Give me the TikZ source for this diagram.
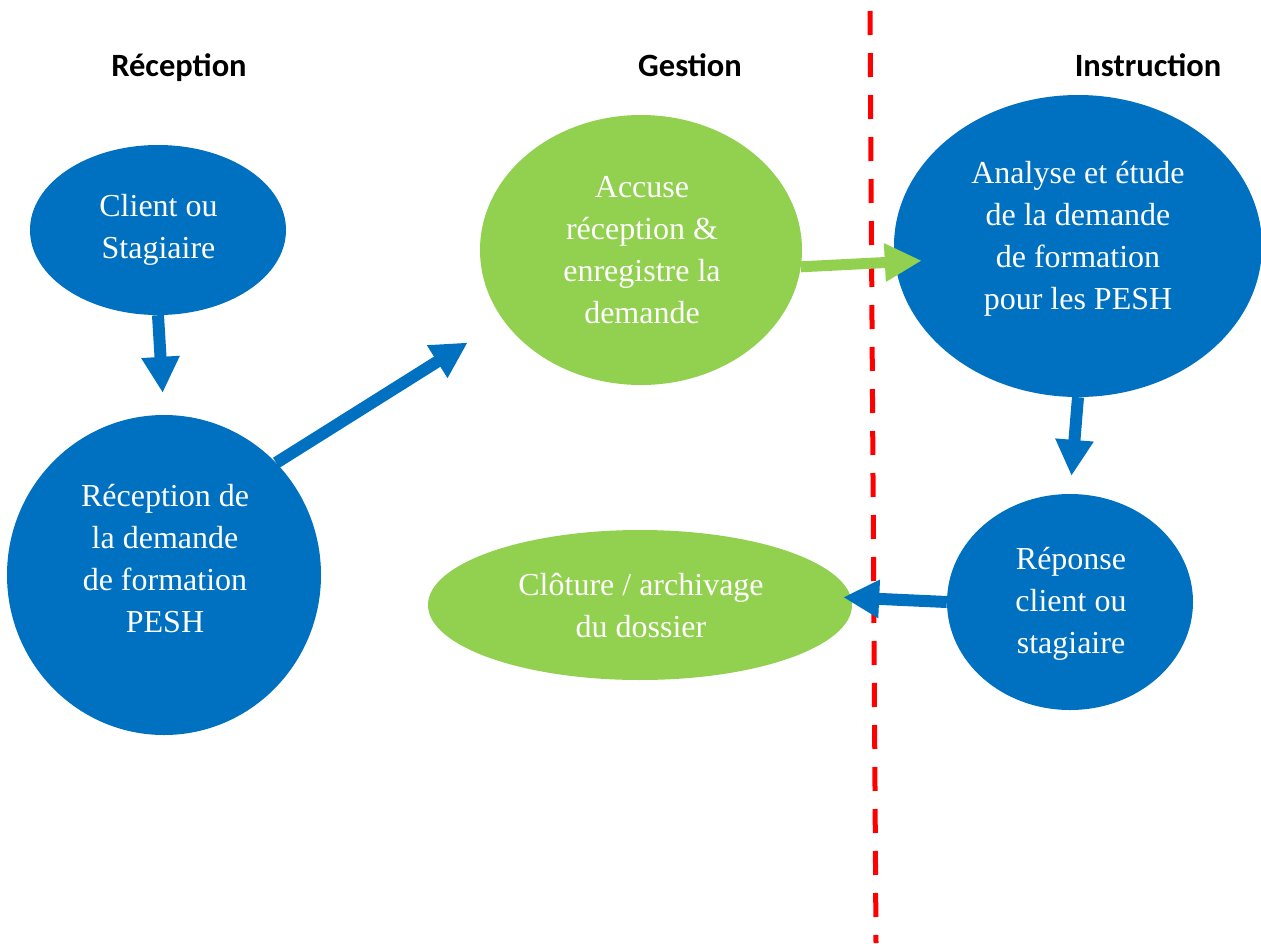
\documentclass[tikz,border=0pt]{standalone}
\usepackage{fontspec}
\setmainfont{Liberation Serif}
\newfontfamily\hdrfont{Carlito}
\usetikzlibrary{arrows.meta,shapes.geometric}
\definecolor{myblue}{RGB}{0,112,192}
\definecolor{mygreen}{RGB}{146,208,80}
\definecolor{myred}{RGB}{255,0,0}
\begin{document}
\begin{tikzpicture}[x=1pt,y=-1pt,
  blob/.style={ellipse, inner sep=0pt, draw=none},
  blueblob/.style={blob, fill=myblue},
  greenblob/.style={blob, fill=mygreen},
  hdr/.style={font=\hdrfont\bfseries\fontsize{32.5}{38}\selectfont, anchor=base, inner sep=0pt},
  txt/.style={font=\fontsize{32}{42}\selectfont, text=white, align=center, anchor=north, inner sep=0pt},
  arrb/.style={draw=myblue, line width=12pt, -{Triangle[length=36pt,width=36pt]}},
  arrg/.style={draw=mygreen, line width=11pt, -{Triangle[length=37pt,width=36pt]}},
  divider/.style={draw=myred, line width=5pt, dash pattern=on 24pt off 18pt}
]
\fill[white] (0,0) rectangle (1261,943);
\useasboundingbox (0,0) rectangle (1261,943);

% headers
\node[hdr] (h1) at (179,76) {Réception};
\node[hdr] (h2) at (690,76) {Gestion};
\node[hdr] (h3) at (1148,76) {Instruction};

% divider
\coordinate (dtop) at (870,11);
\coordinate (dbot) at (876,943);
\draw[divider] (dtop) -- (dbot);

% ellipses
\node[blueblob, minimum width=256pt, minimum height=170pt] (e1) at (158,230) {};
\node[blueblob, minimum width=314pt, minimum height=320pt] (e2) at (164,575) {};
\node[greenblob, minimum width=322pt, minimum height=270pt] (e3) at (641,250) {};
\node[blueblob, minimum width=368pt, minimum height=302pt] (e4) at (1078,246) {};
\node[blueblob, minimum width=246pt, minimum height=216pt] (e5) at (1070,602) {};
\node[greenblob, minimum width=424pt, minimum height=150pt] (e6) at (640,605) {};

% texts
\node[txt] (t1) at (158.5,186) {\rule{0pt}{30pt}Client ou\\Stagiaire};
\node[txt] (t2) at (165,476) {\rule{0pt}{30pt}Réception de\\la demande\\de formation\\PESH};
\node[txt] (t3) at (642,167) {\rule{0pt}{30pt}Accuse\\réception \&\\enregistre la\\demande};
\node[txt] (t4) at (1078,153) {\rule{0pt}{30pt}Analyse et étude\\de la demande\\de formation\\pour les PESH};
\node[txt] (t5) at (1071,539) {\rule{0pt}{30pt}Réponse\\client ou\\stagiaire};
\node[txt] (t6) at (641,565) {\rule{0pt}{30pt}Clôture / archivage\\du dossier};

% connectors
\draw[arrb, shorten >=22pt] (e1.south) -- (e2.north);
\draw[arrb, shorten >=42pt] (e2.45) -- (e3.207);
\draw[arrg, shorten >=-27pt] (e3.-6) -- (e4.185);
\draw[arrb, shorten >=18pt] (e4.south) -- (e5.north);
\draw[arrb, shorten >=-8pt] (e5.west) -- (e6.2);
\end{tikzpicture}
\end{document}
